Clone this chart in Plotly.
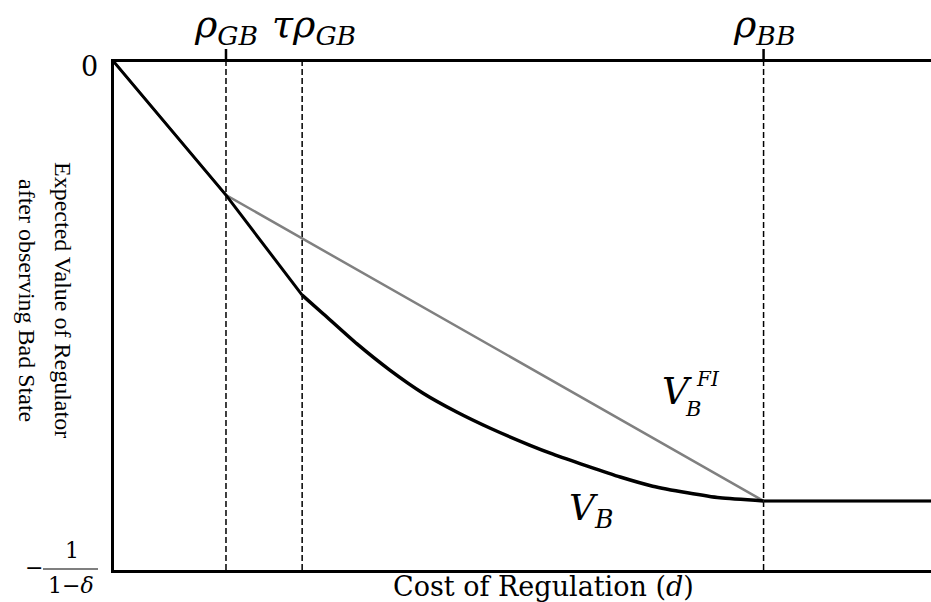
import plotly.graph_objects as go

# ---- data (cost of regulation d on x, value on y; y-min = -1/(1-delta)) ----
RHO_GB = 1.0
TAU_RHO_GB = 1.68
RHO_BB = 5.8
X_MAX = 7.295
Y_MIN = -10.0

# V_B : linear part then convex curve then flat
vb_lin_x = [0.0, 1.0, 1.68]
vb_lin_y = [0.0, -2.62, -4.59]
vb_curve_x = [1.68, 1.87, 2.17, 2.46, 2.76, 3.06, 3.36, 3.71, 3.92, 4.22, 4.52, 4.81, 5.12, 5.41, 5.8]
vb_curve_y = [-4.59, -4.96, -5.55, -6.06, -6.52, -6.89, -7.21, -7.54, -7.72, -7.95, -8.17, -8.35, -8.48, -8.58, -8.64]
vb_flat_x = [5.8, 7.295]
vb_flat_y = [-8.64, -8.64]

# V_B^FI : full-information value
fi_x = [0.0, 1.0, 5.8, 7.295]
fi_y = [0.0, -2.62, -8.64, -8.64]

dashed_x = [RHO_GB, TAU_RHO_GB, RHO_BB]
tick_x = [RHO_GB, RHO_BB]

SERIF = "DejaVu Serif"
TIMES = "Liberation Serif"

# plot-area pixel geometry (for placing text outside the axes)
L, R, T, B = 114, 931, 62, 570
W, H = R - L, B - T


def px(x):
    return (x - L) / W


def py(y):
    return (B - y) / H


fig = go.Figure()

fig.add_trace(go.Scatter(x=fi_x, y=fi_y, mode="lines",
                         line=dict(color="#808080", width=2.5), hoverinfo="skip"))
fig.add_trace(go.Scatter(x=vb_lin_x, y=vb_lin_y, mode="lines",
                         line=dict(color="black", width=3), hoverinfo="skip"))
fig.add_trace(go.Scatter(x=vb_curve_x, y=vb_curve_y, mode="lines",
                         line=dict(color="black", width=3.5, shape="spline", smoothing=0.6),
                         hoverinfo="skip"))
fig.add_trace(go.Scatter(x=vb_flat_x, y=vb_flat_y, mode="lines",
                         line=dict(color="black", width=3), hoverinfo="skip"))

shapes = []
for xv in dashed_x:
    shapes.append(dict(type="line", xref="x", yref="y", x0=xv, x1=xv, y0=Y_MIN, y1=0,
                       line=dict(color="black", width=1.5, dash="6px,3px"), layer="below"))
for xv in tick_x:
    shapes.append(dict(type="line", xref="x", yref="paper", x0=xv, x1=xv, y0=1, y1=py(49),
                       line=dict(color="black", width=2.5)))
# fraction bar of -1/(1-delta)
shapes.append(dict(type="line", xref="paper", yref="paper", x0=px(43), x1=px(98),
                   y0=py(569), y1=py(569), line=dict(color="black", width=1.2)))

ann = []


def txt(text, x, y, size, family=SERIF, xref="paper", angle=0, xanchor="center"):
    ann.append(dict(text=text, x=x, y=y, xref=xref, yref="paper", showarrow=False,
                    xanchor=xanchor, yanchor="middle", textangle=angle,
                    font=dict(family=family, size=size, color="black")))


# top labels
txt("<i>ρ</i><sub><i>GB</i></sub>", RHO_GB, py(27), 38, xref="x")
txt("<i>τρ</i><sub><i>GB</i></sub>", px(314), py(27), 38)
txt("<i>ρ</i><sub><i>BB</i></sub>", RHO_BB, py(27), 38, xref="x")

# y values
txt("0", px(89), py(67), 27)
txt("−", px(34), py(567), 22)
txt("1", px(72), py(550), 22)
txt("1−<i>δ</i>", px(71), py(585), 22)

# axis titles
txt("Cost of Regulation (<i>d</i>)", px(543), py(586), 27)
txt("Expected Value of Regulator", px(63), py(300), 24, family=TIMES, angle=90)
txt("after observing Bad State", px(27), py(300), 24, family=TIMES, angle=90)

# curve labels
txt("<i>V</i><sub><i>B</i></sub>", px(591), py(510), 36)
txt("<i>V</i>", px(677), py(391), 37)
txt("<i>FI</i>", px(694), py(379), 20, xanchor="left")
txt("<i>B</i>", px(683), py(409), 21, xanchor="left")

fig.update_layout(
    width=931, height=602,
    margin=dict(l=L, r=931 - R, t=T, b=602 - B),
    paper_bgcolor="white", plot_bgcolor="white",
    showlegend=False,
    shapes=shapes, annotations=ann,
    xaxis=dict(range=[0, X_MAX], showline=True, mirror=True, linecolor="black", linewidth=2.5,
               showgrid=False, zeroline=False, showticklabels=False, ticks=""),
    yaxis=dict(range=[Y_MIN, 0], showline=True, mirror=False, linecolor="black", linewidth=2.5,
               showgrid=False, zeroline=False, showticklabels=False, ticks=""),
)

fig.write_html(
    "out.html",
    config={"displayModeBar": False},
    post_script=("document.body.style.margin='0';"
                 "document.body.style.overflow='hidden';"
                 "document.documentElement.style.overflow='hidden';"),
)
